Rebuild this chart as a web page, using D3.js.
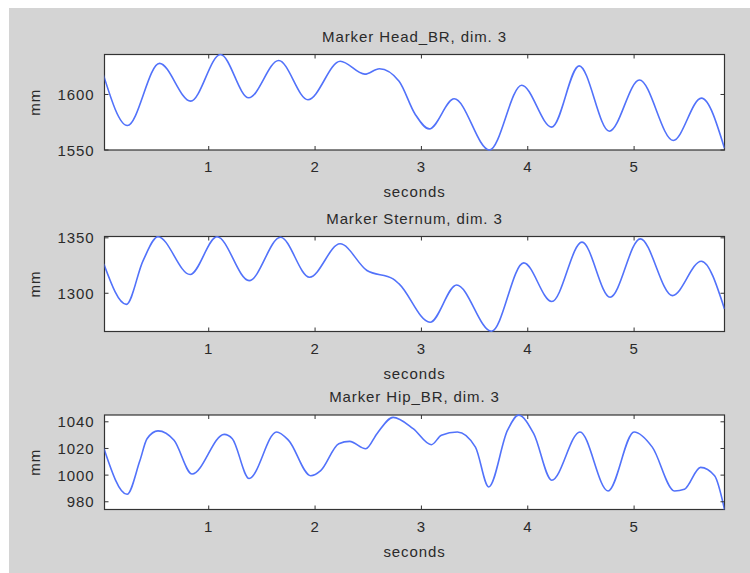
<!DOCTYPE html>
<html>
<meta charset="utf-8">
<head>
<style>
body { margin: 0; background: #fff; }
svg text { font-family: Arial, "Liberation Sans", sans-serif; fill: #2a2a2a; font-size: 15px; letter-spacing: 0.9px; }
.box { fill: #fff; stroke: #333; stroke-width: 1.2; }
.tick { stroke: #333; stroke-width: 1; }
.trace { fill: none; stroke: #5272fa; stroke-width: 1.6; stroke-linejoin: round; }
</style>
</head>
<body>
<svg width="750" height="573"></svg>

<script src="https://cdn.jsdelivr.net/npm/d3@7"></script>

<script>

// ---- data ----
var titles = ["Marker Head_BR, dim. 3", "Marker Sternum, dim. 3", "Marker Hip_BR, dim. 3"];
var xTicks = [1, 2, 3, 4, 5];
var xDomain = [0.02, 5.85];

var headYDomain = [1550, 1636];
var headYTicks = [1550, 1600];
var headT = [0.01, 0.235, 0.537, 0.83, 1.11, 1.376, 1.658, 1.933, 2.237, 2.468, 2.605, 2.79, 2.941, 3.074, 3.308, 3.64, 3.943, 4.226, 4.483, 4.767, 5.05, 5.368, 5.633, 5.85];
var headV = [1617.6, 1572, 1628, 1594, 1636, 1597, 1630.6, 1595.3, 1629.9, 1618.3, 1623.2, 1611.9, 1582.2, 1569, 1596.1, 1550, 1608.3, 1570.6, 1625.8, 1566.9, 1613, 1558.6, 1596.7, 1551.5];

var sternYDomain = [1265.5, 1351.2];
var sternYTicks = [1300, 1350];
var sternT = [0.013, 0.225, 0.383, 0.523, 0.825, 1.078, 1.38, 1.675, 1.948, 2.235, 2.488, 2.733, 2.79, 3.081, 3.331, 3.659, 3.962, 4.226, 4.51, 4.774, 5.058, 5.36, 5.632, 5.85];
var sternV = [1326.5, 1290, 1329.5, 1351, 1316.9, 1351, 1311.4, 1350.5, 1314.5, 1344.6, 1320.5, 1313, 1308.4, 1273.8, 1307.5, 1265.7, 1327.4, 1292.5, 1346.1, 1296.4, 1349.1, 1297.9, 1328.9, 1285.8];

var hipYDomain = [974.2, 1045.1];
var hipYTicks = [980, 1000, 1020, 1040];
var hipT = [0.013, 0.232, 0.353, 0.42, 0.523, 0.674, 0.844, 1.146, 1.222, 1.38, 1.638, 1.751, 1.959, 2.053, 2.223, 2.325, 2.477, 2.582, 2.733, 2.922, 3.093, 3.188, 3.338, 3.508, 3.633, 3.81, 3.913, 4.056, 4.226, 4.491, 4.755, 5.0, 5.171, 5.38, 5.473, 5.625, 5.757, 5.85];
var hipV = [1020.3, 985.6, 1010.9, 1027.3, 1033.2, 1026.1, 1000.8, 1030.6, 1027.3, 997.5, 1032.4, 1026.1, 999.5, 1003.3, 1023.5, 1025.3, 1019.8, 1031.1, 1043.3, 1034.9, 1022.8, 1029.9, 1032.4, 1021, 991.1, 1033.7, 1045, 1031.1, 996.2, 1032.4, 988.1, 1032.4, 1021, 988.1, 989.4, 1005.8, 999.5, 974.2];

// ---- layout ----
var svg = d3.select("svg");
var left = 104.5, right = 724.5, tickLen = 4;
var panels = [
  {title: titles[0], t: headT, v: headV, dom: headYDomain, ticks: headYTicks, top: 54.5, bottom: 150},
  {title: titles[1], t: sternT, v: sternV, dom: sternYDomain, ticks: sternYTicks, top: 236.5, bottom: 331.5},
  {title: titles[2], t: hipT, v: hipV, dom: hipYDomain, ticks: hipYTicks, top: 415, bottom: 509.5}
];

// figure background
svg.append("rect")
    .attr("x", 9).attr("y", 8)
    .attr("width", 741).attr("height", 565)
    .attr("fill", "#d4d4d4");

var x = d3.scaleLinear().domain(xDomain).range([left, right]);

panels.forEach(function(p, i) {
  var y = d3.scaleLinear().domain(p.dom).range([p.bottom, p.top]);
  var g = svg.append("g");

  g.append("rect")
      .attr("class", "box")
      .attr("x", left).attr("y", p.top)
      .attr("width", right - left).attr("height", p.bottom - p.top);

  g.append("clipPath").attr("id", "clip" + i)
    .append("rect")
      .attr("x", left).attr("y", p.top - 1)
      .attr("width", right - left).attr("height", p.bottom - p.top + 2);

  var pts = p.t.map(function(t, k) { return [t, p.v[k]]; });
  var line = d3.line()
      .x(function(d) { return x(d[0]); })
      .y(function(d) { return y(d[1]); })
      .curve(d3.curveMonotoneX);

  g.append("path")
      .attr("class", "trace")
      .attr("clip-path", "url(#clip" + i + ")")
      .attr("d", line(pts));

  // inside ticks on all four sides
  xTicks.forEach(function(t) {
    g.append("line").attr("class", "tick")
        .attr("x1", x(t)).attr("x2", x(t))
        .attr("y1", p.bottom).attr("y2", p.bottom - tickLen);
    g.append("line").attr("class", "tick")
        .attr("x1", x(t)).attr("x2", x(t))
        .attr("y1", p.top).attr("y2", p.top + tickLen);
    g.append("text")
        .attr("x", x(t)).attr("y", p.bottom + 22)
        .attr("text-anchor", "middle")
        .text(t);
  });

  p.ticks.forEach(function(v) {
    g.append("line").attr("class", "tick")
        .attr("x1", left).attr("x2", left + tickLen)
        .attr("y1", y(v)).attr("y2", y(v));
    g.append("line").attr("class", "tick")
        .attr("x1", right).attr("x2", right - tickLen)
        .attr("y1", y(v)).attr("y2", y(v));
    g.append("text")
        .attr("x", left - 10).attr("y", y(v) + 5.5)
        .attr("text-anchor", "end")
        .text(v);
  });

  g.append("text")
      .attr("x", (left + right) / 2).attr("y", p.top - 13)
      .attr("text-anchor", "middle")
      .text(p.title);

  g.append("text")
      .attr("x", (left + right) / 2).attr("y", p.bottom + 47)
      .attr("text-anchor", "middle")
      .text("seconds");

  g.append("text")
      .attr("transform", "translate(40," + ((p.top + p.bottom) / 2) + ") rotate(-90)")
      .attr("text-anchor", "middle")
      .text("mm");
});

</script>
</body>
</html>
